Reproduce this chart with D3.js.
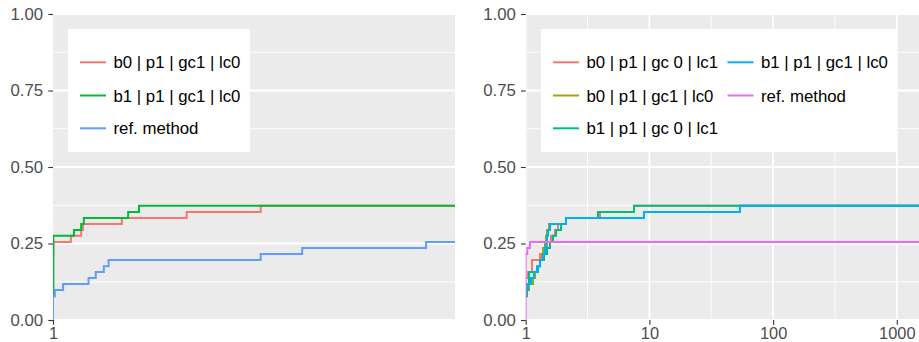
<!DOCTYPE html>
<html>
<head>
<meta charset="utf-8">
<script src="https://cdn.jsdelivr.net/npm/d3@7"></script>
<style>
  html, body { margin: 0; padding: 0; background: #ffffff; }
  svg { display: block; }
  .axis text { font-family: "Liberation Sans", Arial, sans-serif; font-size: 16.8px; fill: #4d4d4d; }
  .axis.x text { font-size: 16.4px; }
  .axis line { stroke: #333333; stroke-width: 1.1px; }
  .axis path { display: none; }
  .legend text { font-family: "Liberation Sans", Arial, sans-serif; font-size: 16.8px; fill: #000000; }
</style>
</head>
<body>
<svg id="chart" width="919" height="342"></svg>
<script>
// Performance profiles: share of the 51 problems solved within a ratio of the best.
const yTicks = [0, 0.25, 0.5, 0.75, 1];
const yMinorTicks = [0.125, 0.375, 0.625, 0.875];
const leftXTicks = [1];
const rightXTicks = [1, 10, 100, 1000];
const rightXMinorTicks = [3.162, 31.62, 316.2];

// Left panel series (ratio, share solved)
const leftLabels = ["b0 | p1 | gc1 | lc0", "b1 | p1 | gc1 | lc0", "ref. method"];
const leftColors = ["#F8766D", "#00BA38", "#619CFF"];
const leftB0Ratio = [1, 1.001, 1.050, 1.080, 1.085, 1.207, 1.441, 1.764];
const leftB0Share = [0.216, 0.255, 0.275, 0.294, 0.314, 0.333, 0.353, 0.373];
const leftB1Ratio = [1, 1.001, 1.059, 1.080, 1.088, 1.228, 1.265];
const leftB1Share = [0.078, 0.275, 0.294, 0.314, 0.333, 0.353, 0.373];
const leftRefRatio = [1, 1, 1.005, 1.028, 1.102, 1.124, 1.149, 1.164, 1.764, 1.976, 2.772];
const leftRefShare = [0, 0.078, 0.098, 0.118, 0.137, 0.157, 0.176, 0.196, 0.216, 0.235, 0.255];

// Right panel series (ratio, share solved)
const rightLabels = ["b0 | p1 | gc 0 | lc1", "b0 | p1 | gc1 | lc0", "b1 | p1 | gc 0 | lc1", "b1 | p1 | gc1 | lc0", "ref. method"];
const rightColors = ["#F8766D", "#A3A500", "#00BF7D", "#00B0F6", "#E76BF3"];
const rB0gc0Ratio = [1, 1.044, 1.124, 1.305, 1.380, 1.487, 1.602, 1.725, 1.824, 2.118, 3.988, 7.508];
const rB0gc0Share = [0.137, 0.157, 0.196, 0.216, 0.235, 0.255, 0.275, 0.294, 0.314, 0.333, 0.353, 0.373];
const rB0gc1Ratio = [1, 1.063, 1.146, 1.189, 1.257, 1.305, 1.354, 1.380, 1.432, 1.459, 1.487, 1.543, 2.118, 9.045, 54.0];
const rB0gc1Share = [0.098, 0.118, 0.137, 0.157, 0.176, 0.196, 0.216, 0.235, 0.255, 0.275, 0.294, 0.314, 0.333, 0.353, 0.373];
const rB1gc0Ratio = [1, 1.025, 1.063, 1.257, 1.305, 1.406, 1.487, 1.572, 1.663, 1.758, 1.929, 2.118, 3.842, 7.508];
const rB1gc0Share = [0.078, 0.118, 0.157, 0.176, 0.196, 0.216, 0.235, 0.255, 0.275, 0.294, 0.314, 0.333, 0.353, 0.373];
const rB1gc1Ratio = [1, 1.044, 1.104, 1.167, 1.234, 1.305, 1.380, 1.432, 1.459, 1.487, 1.515, 1.572, 2.118, 9.045, 54.0];
const rB1gc1Share = [0.098, 0.118, 0.137, 0.157, 0.176, 0.196, 0.216, 0.235, 0.255, 0.275, 0.294, 0.314, 0.333, 0.353, 0.373];
const rRefRatio = [1, 1, 1.030, 1.083];
const rRefShare = [0, 0.216, 0.235, 0.255];

const zip = (xs, ys) => xs.map((x, i) => [x, ys[i]]);

const svg = d3.select("#chart");
const panelTop = 14, panelBottom = 320;

function drawPanel(cfg) {
  const x = d3.scaleLog().domain(cfg.xDomain).range([cfg.left, cfg.right]);
  const y = d3.scaleLinear().domain([0, 1]).range([panelBottom, panelTop]);
  const g = svg.append("g");
  const clipId = "clip-" + cfg.id;
  g.append("clipPath").attr("id", clipId)
    .append("rect").attr("x", cfg.left).attr("y", panelTop)
    .attr("width", cfg.right - cfg.left).attr("height", panelBottom - panelTop);

  g.append("rect").attr("x", cfg.left).attr("y", panelTop)
    .attr("width", cfg.right - cfg.left).attr("height", panelBottom - panelTop)
    .attr("fill", "#EBEBEB");

  const grid = g.append("g").attr("clip-path", `url(#${clipId})`);
  grid.selectAll(".hminor").data(yMinorTicks).join("line")
    .attr("x1", cfg.left).attr("x2", cfg.right)
    .attr("y1", d => y(d)).attr("y2", d => y(d))
    .attr("stroke", "#ffffff").attr("stroke-width", 0.9);
  grid.selectAll(".vminor").data(cfg.xMinor).join("line")
    .attr("x1", d => x(d)).attr("x2", d => x(d))
    .attr("y1", panelTop).attr("y2", panelBottom)
    .attr("stroke", "#ffffff").attr("stroke-width", 0.9);
  grid.selectAll(".hmajor").data(yTicks).join("line")
    .attr("x1", cfg.left).attr("x2", cfg.right)
    .attr("y1", d => y(d)).attr("y2", d => y(d))
    .attr("stroke", "#ffffff").attr("stroke-width", 1.8);
  grid.selectAll(".vmajor").data(cfg.xGrid).join("line")
    .attr("x1", d => x(d)).attr("x2", d => x(d))
    .attr("y1", panelTop).attr("y2", panelBottom)
    .attr("stroke", "#ffffff").attr("stroke-width", 1.8);

  const line = d3.line().x(d => x(d[0])).y(d => y(d[1])).curve(d3.curveStepAfter);
  const lines = g.append("g").attr("clip-path", `url(#${clipId})`);
  cfg.series.forEach((s, i) => {
    const pts = s.slice();
    pts.push([x.domain()[1], s[s.length - 1][1]]);
    lines.append("path").attr("d", line(pts))
      .attr("fill", "none").attr("stroke", cfg.colors[i])
      .attr("stroke-width", 2).attr("stroke-linejoin", "miter");
  });

  g.append("g").attr("class", "axis y")
    .attr("transform", `translate(${cfg.left},0)`)
    .call(d3.axisLeft(y).tickValues(yTicks).tickFormat(d3.format(".2f")).tickSize(4.7).tickPadding(5.2));
  g.append("g").attr("class", "axis x")
    .attr("transform", `translate(0,${panelBottom})`)
    .call(d3.axisBottom(x).tickValues(cfg.xTicks).tickFormat(d3.format("d")).tickSize(4.7).tickPadding(2.2));

  // legend
  const lg = g.append("g").attr("class", "legend");
  lg.append("rect").attr("x", cfg.legend.x).attr("y", cfg.legend.y)
    .attr("width", cfg.legend.w).attr("height", cfg.legend.h).attr("fill", "#ffffff");
  cfg.labels.forEach((lab, i) => {
    const col = Math.floor(i / 3), row = i % 3;
    const kx = cfg.legend.keyX[col];
    const ky = cfg.legend.rowY[row];
    lg.append("line").attr("x1", kx).attr("x2", kx + 26).attr("y1", ky).attr("y2", ky)
      .attr("stroke", cfg.colors[i]).attr("stroke-width", 2);
    lg.append("text").attr("x", kx + 33.5).attr("y", ky).attr("dy", "0.36em").text(lab);
  });
}

drawPanel({
  id: "left", left: 53, right: 455, xDomain: [1, 3],
  xTicks: leftXTicks, xGrid: [], xMinor: [],
  colors: leftColors, labels: leftLabels,
  series: [zip(leftB0Ratio, leftB0Share), zip(leftB1Ratio, leftB1Share), zip(leftRefRatio, leftRefShare)],
  legend: { x: 68, y: 29, w: 182, h: 123, keyX: [80], rowY: [62.3, 95.5, 128.3] }
});

drawPanel({
  id: "right", left: 525.7, right: 919, xDomain: [1, 1512],
  xTicks: rightXTicks, xGrid: rightXTicks, xMinor: rightXMinorTicks,
  colors: rightColors, labels: rightLabels,
  series: [zip(rB0gc0Ratio, rB0gc0Share), zip(rB0gc1Ratio, rB0gc1Share), zip(rB1gc0Ratio, rB1gc0Share),
           zip(rB1gc1Ratio, rB1gc1Share), zip(rRefRatio, rRefShare)],
  legend: { x: 541, y: 29, w: 356, h: 123, keyX: [553, 727.5], rowY: [62.3, 95.5, 128.3] }
});
</script>
</body>
</html>
